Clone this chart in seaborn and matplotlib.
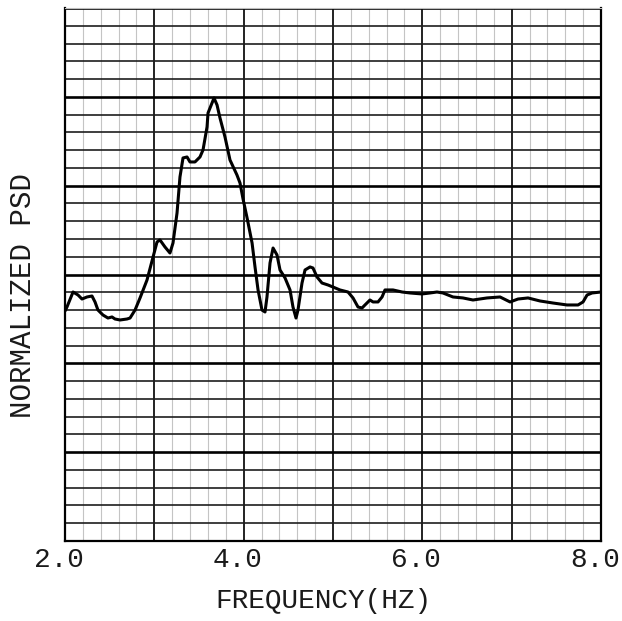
import numpy as np
import pandas as pd
import matplotlib
matplotlib.use("Agg")
import matplotlib.pyplot as plt
import matplotlib.transforms as mtransforms
import seaborn as sns

# ---- data ----
freq_hz = [2.000, 2.022, 2.090, 2.146, 2.190, 2.246, 2.302, 2.336, 2.369, 2.425,
           2.481, 2.526, 2.560, 2.616, 2.694, 2.728, 2.784, 2.840, 2.918, 2.974,
           3.030, 3.063, 3.119, 3.175, 3.209, 3.254, 3.287, 3.321, 3.366, 3.399,
           3.455, 3.511, 3.545, 3.590, 3.601, 3.646, 3.668, 3.702, 3.735, 3.791,
           3.847, 3.925, 3.959, 3.993, 4.038, 4.094, 4.127, 4.161, 4.205, 4.239,
           4.261, 4.295, 4.329, 4.373, 4.407, 4.463, 4.519, 4.552, 4.586, 4.608,
           4.653, 4.687, 4.743, 4.776, 4.821, 4.877, 4.944, 5.000, 5.078, 5.168,
           5.224, 5.280, 5.325, 5.358, 5.414, 5.448, 5.504, 5.549, 5.582, 5.672,
           5.773, 5.862, 5.996, 6.086, 6.164, 6.231, 6.343, 6.455, 6.567, 6.724,
           6.870, 6.982, 7.071, 7.183, 7.317, 7.463, 7.620, 7.743, 7.799, 7.844,
           7.900, 8.000]
norm_psd = [2.589, 2.634, 2.803, 2.769, 2.724, 2.747, 2.758, 2.691, 2.600, 2.544,
            2.510, 2.522, 2.499, 2.488, 2.499, 2.510, 2.600, 2.736, 2.938, 3.152,
            3.366, 3.389, 3.310, 3.242, 3.355, 3.692, 4.098, 4.312, 4.323, 4.267,
            4.267, 4.323, 4.402, 4.661, 4.818, 4.931, 4.987, 4.908, 4.762, 4.548,
            4.289, 4.120, 4.030, 3.850, 3.638, 3.355, 3.085, 2.826, 2.600, 2.578,
            2.747, 3.130, 3.298, 3.220, 3.051, 2.961, 2.826, 2.634, 2.510, 2.600,
            2.904, 3.051, 3.085, 3.073, 2.972, 2.904, 2.882, 2.859, 2.826, 2.803,
            2.736, 2.634, 2.623, 2.657, 2.713, 2.691, 2.691, 2.747, 2.826, 2.826,
            2.803, 2.792, 2.781, 2.792, 2.803, 2.792, 2.747, 2.736, 2.713, 2.736,
            2.747, 2.691, 2.724, 2.736, 2.702, 2.679, 2.657, 2.657, 2.691, 2.769,
            2.792, 2.803]

x_major = [2, 3, 4, 5, 6, 7, 8]
x_tick_labels = ["2.0", "", "4.0", "", "6.0", "", "8.0"]
x_label = "FREQUENCY(HZ)"
y_label = "NORMALIZED PSD"

df = pd.DataFrame({"freq": freq_hz, "psd": norm_psd})

sns.set_theme(style="white")
plt.rcParams["font.family"] = ["Liberation Mono", "DejaVu Sans Mono"]

W, H, DPI = 622, 621, 100
FS = 20
fig = plt.figure(figsize=(W / DPI, H / DPI), dpi=DPI, facecolor="white")
ax = fig.add_axes([65 / W, (H - 541) / H, (601 - 65) / W, (541 - 8) / H])
ax.set_facecolor("white")

ax.set_xlim(2, 8)
ax.set_ylim(0, 6)

# graph-paper grid
ax.set_xticks(x_major)
ax.set_xticks(np.arange(2, 8.001, 0.2), minor=True)
ax.set_yticks(np.arange(0, 6.001, 1.0))
ax.set_yticks(np.arange(0, 6.001, 0.2), minor=True)
ax.grid(True, axis="x", which="minor", color="#c4c4c4", linewidth=0.8)
ax.grid(True, axis="y", which="minor", color="#1e1e1e", linewidth=1.2)
ax.grid(True, axis="x", which="major", color="#111111", linewidth=1.3)
ax.grid(True, axis="y", which="major", color="#000000", linewidth=1.9)
ax.set_axisbelow(True)

sns.lineplot(data=df, x="freq", y="psd", ax=ax, color="black", linewidth=2.2,
             estimator=None, sort=False)

ax.set_xticklabels(x_tick_labels, fontsize=FS, color="#1a1a1a")
ax.set_yticklabels([])
ax.tick_params(axis="both", which="both", length=0)
ax.tick_params(axis="x", pad=4.5)
offset = mtransforms.ScaledTranslation(-6 / DPI, 0, fig.dpi_scale_trans)
for lab in ax.get_xticklabels():
    lab.set_transform(lab.get_transform() + offset)

ax.set_xlabel(x_label, fontsize=FS, color="#1a1a1a")
ax.set_ylabel(y_label, fontsize=FS + 1, color="#1a1a1a")
ax.xaxis.set_label_coords(0.482, -0.1126)
ax.xaxis.label.set_va("center")
ax.yaxis.set_label_coords(-0.079, 0.4615)
ax.yaxis.label.set_va("center")

for side in ["left", "bottom", "right"]:
    ax.spines[side].set_visible(True)
    ax.spines[side].set_color("black")
    ax.spines[side].set_linewidth(1.6)
ax.spines["top"].set_color("#bdbdbd")
ax.spines["top"].set_linewidth(0.8)

fig.savefig("out.png", dpi=DPI, facecolor="white")
